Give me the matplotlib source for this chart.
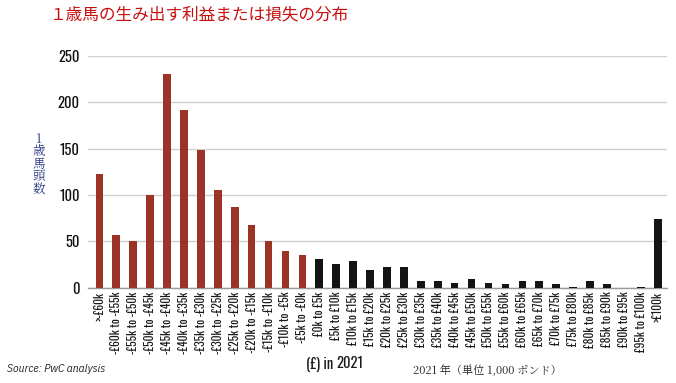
import matplotlib
matplotlib.use("Agg")
import matplotlib.pyplot as plt

categories = [">-£60k", "-£60k to -£55k", "-£55k to -£50k", "-£50k to -£45k", "-£45k to -£40k",
              "-£40k to -£35k", "-£35k to -£30k", "-£30k to -£25k", "-£25k to -£20k",
              "-£20k to -£15k", "-£15k to -£10k", "-£10k to -£5k", "-£5k to -£0k",
              "£0k to £5k", "£5k to £10k", "£10k to £15k", "£15k to £20k", "£20k to £25k",
              "£25k to £30k", "£30k to £35k", "£35k to £40k", "£40k to £45k", "£45k to £50k",
              "£50k to £55k", "£55k to £60k", "£60k to £65k", "£65k to £70k", "£70k to £75k",
              "£75k to £80k", "£80k to £85k", "£85k to £90k", "£90k to £95k", "£95k to £100k",
              ">£100k"]
counts = [123, 57, 50, 100, 231, 192, 148, 105, 87, 67, 50, 39, 35,
          31, 25, 29, 19, 22, 22, 7, 7, 5, 9, 5, 4, 7, 7, 4, 1, 7, 4, 0, 1, 74]
is_loss = [True] * 13 + [False] * 21
yticks = [0, 50, 100, 150, 200, 250]
ylabel_chars = ["1", "歳", "馬", "頭", "数"]

RED = "#9c3327"
BLACK = "#141414"
NARROW = ["Oswald", "IBM Plex Sans Condensed", "DejaVu Sans"]
ITAL = ["IBM Plex Sans Condensed", "DejaVu Sans"]
CJK = ["Noto Sans CJK JP", "DejaVu Sans"]
CJK_SERIF = ["Noto Serif CJK JP", "Noto Sans CJK JP", "DejaVu Sans"]

fig = plt.figure(figsize=(6.76, 3.83), dpi=100)
ax = fig.add_axes([88/676, 1 - 287.5/383, (667-88)/676, (287.5-56)/383])

x = list(range(len(categories)))
colors = [RED if l else BLACK for l in is_loss]
ax.bar(x, counts, width=0.45, color=colors, zorder=3)

ax.set_xlim(-0.67, 33.55)
ax.set_ylim(0, 250)
ax.set_yticks(yticks)
ax.set_yticklabels([str(v) for v in yticks], family=NARROW, fontsize=10.5,
                   fontweight="bold", color="#111111")
ax.set_xticks(x)
ax.set_xticklabels(categories, rotation=90, family=NARROW, fontsize=8.3,
                   fontweight="light", color="#1a1a1a")
ax.tick_params(axis="both", length=0)
ax.tick_params(axis="y", pad=6)
ax.tick_params(axis="x", pad=3)
ax.grid(axis="y", color="#cfcfcf", linewidth=1.0, zorder=0)
for s in ["top", "right", "left"]:
    ax.spines[s].set_visible(False)
ax.spines["bottom"].set_color("#999999")
ax.spines["bottom"].set_linewidth(1.0)

fig.text(50/676, 1 - 15/383, "１歳馬の生み出す利益または損失の分布", family=CJK, fontsize=12,
         color="#c80f0f", ha="left", va="center")
for i, ch in enumerate(ylabel_chars):
    fig.text(38.5/676, 1 - (139 + i * 12.5)/383, ch, family=CJK_SERIF, fontsize=9,
             color="#2b3a85", ha="center", va="center")
fig.text(7/676, 1 - 369/383, "Source: PwC analysis", family=ITAL, fontsize=8.3,
         style="italic", color="#222222", ha="left", va="center")
fig.text(333/676, 1 - 364/383, "(£) in", family=NARROW, fontsize=10.5,
         color="#1a1a1a", ha="right", va="center")
fig.text(336/676, 1 - 364/383, "2021", family=NARROW, fontsize=10.5, fontweight="bold",
         color="#1a1a1a", ha="left", va="center")
fig.text(487/676, 1 - 372/383, "2021 年（単位 1,000 ポンド）", family=CJK_SERIF, fontsize=8,
         color="#222222", ha="center", va="center")

fig.savefig("out.png", dpi=100)
